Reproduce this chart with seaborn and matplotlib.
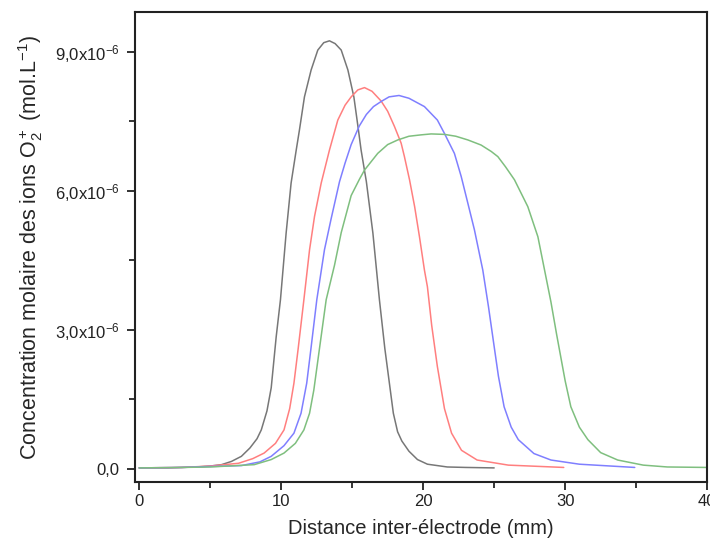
import numpy as np
import pandas as pd
import matplotlib
matplotlib.use("Agg")
import matplotlib.pyplot as plt
import seaborn as sns

# values (x in mm, y in 1e-6 mol/L)
x_black = [0, 2, 4, 5, 5.8, 6.5, 7.2, 7.8, 8.3, 8.6, 9.0, 9.3, 9.65, 9.95, 10.35, 10.7, 11.06,
           11.29, 11.64, 12.11, 12.58, 13.0, 13.4, 13.8, 14.23, 14.7, 15.12, 15.44, 15.63, 16.0,
           16.46, 16.92, 17.3, 17.6, 17.9, 18.2, 18.5, 19.0, 19.6, 20.3, 21.7, 23.0, 25.0]
y_black = [0.02, 0.02, 0.04, 0.06, 0.09, 0.16, 0.27, 0.45, 0.65, 0.84, 1.25, 1.75, 2.85, 3.65, 5.09,
           6.17, 6.88, 7.32, 8.03, 8.61, 9.04, 9.2, 9.24, 9.18, 9.04, 8.61, 8.03, 7.32, 6.88, 6.2,
           5.09, 3.65, 2.6, 1.9, 1.2, 0.8, 0.6, 0.38, 0.2, 0.1, 0.04, 0.03, 0.02]

x_red = [0, 3, 5, 7.0, 8.0, 8.8, 9.6, 10.2, 10.6, 10.9, 11.2, 11.6, 12.0, 12.35, 12.82, 13.4,
         13.99, 14.5, 14.93, 15.4, 15.87, 16.4, 17.04, 17.5, 17.98, 18.45, 18.68, 19.04, 19.4,
         19.74, 20.09, 20.3, 20.6, 21.0, 21.5, 22.0, 22.7, 23.8, 26.0, 29.9]
y_red = [0.02, 0.03, 0.06, 0.12, 0.22, 0.34, 0.55, 0.84, 1.3, 1.85, 2.6, 3.65, 4.73, 5.45, 6.17, 6.88,
         7.53, 7.85, 8.03, 8.18, 8.23, 8.15, 7.94, 7.72, 7.39, 7.03, 6.74, 6.24, 5.66,
         5.01, 4.29, 3.93, 3.1, 2.21, 1.3, 0.77, 0.4, 0.19, 0.08, 0.03]

x_blue = [0, 3, 5, 7.2, 8.5, 9.3, 10.2, 10.9, 11.4, 11.8, 12.1, 12.51, 13.05, 13.52, 14.11, 14.5,
          14.93, 15.5, 16.0, 16.5, 17.04, 17.6, 18.3, 19.0, 20.09, 21.0, 21.5, 22.2, 22.68, 23.15,
          23.61, 24.2, 24.6, 25.0, 25.3, 25.7, 26.2, 26.7, 27.8, 29.0, 31.0, 34.9]
y_blue = [0.02, 0.03, 0.05, 0.07, 0.15, 0.27, 0.5, 0.77, 1.2, 1.85, 2.6, 3.65, 4.73, 5.4, 6.2, 6.6,
          7.0, 7.4, 7.65, 7.82, 7.93, 8.03, 8.06, 8.0, 7.82, 7.53, 7.24, 6.81, 6.31, 5.73,
          5.16, 4.29, 3.5, 2.64, 2.0, 1.34, 0.9, 0.63, 0.33, 0.19, 0.1, 0.03]

x_green = [0, 3, 5, 8.1, 9.3, 10.2, 11.0, 11.6, 12.0, 12.3, 12.7, 13.17, 13.76, 14.23, 14.93, 15.51,
           15.87, 16.8, 17.5, 18.21, 19.0, 19.86, 20.56, 21.5, 22.3, 23.15, 24.08, 24.8, 25.26,
           25.8, 26.43, 26.9, 27.37, 28.08, 28.55, 29.0, 29.4, 29.7, 30.0, 30.4, 31.0, 31.6,
           32.5, 33.7, 35.5, 37.2, 40.0]
y_green = [0.02, 0.03, 0.04, 0.09, 0.2, 0.34, 0.55, 0.84, 1.2, 1.7, 2.6, 3.65, 4.4, 5.1, 5.9, 6.25,
           6.45, 6.81, 7.0, 7.1, 7.18, 7.21, 7.23, 7.22, 7.18, 7.1, 6.99, 6.85, 6.74,
           6.52, 6.24, 5.95, 5.66, 5.01, 4.29, 3.6, 2.9, 2.4, 1.9, 1.34, 0.9, 0.63,
           0.35, 0.19, 0.08, 0.04, 0.03]

series_names = ["noir", "rouge", "bleu", "vert"]
colors = ["#777777", "#ff7f7f", "#7f7fff", "#7fbf7f"]

frames = []
for name, xs, ys in zip(series_names,
                        [x_black, x_red, x_blue, x_green],
                        [y_black, y_red, y_blue, y_green]):
    frames.append(pd.DataFrame({"x": xs, "y": np.array(ys) * 1e-6, "serie": name}))
df = pd.concat(frames, ignore_index=True)

sns.set_style("ticks")
plt.rcParams["font.family"] = ["Liberation Sans", "DejaVu Sans"]
plt.rcParams["mathtext.fontset"] = "custom"
plt.rcParams["mathtext.rm"] = "Liberation Sans"
plt.rcParams["mathtext.it"] = "Liberation Sans:italic"

fig = plt.figure(figsize=(7.1, 5.5), dpi=100)
ax = fig.add_axes([0.19, 0.124, 0.806, 0.854])

sns.lineplot(data=df, x="x", y="y", hue="serie", palette=colors,
             estimator=None, sort=False, linewidth=1.1, legend=False, ax=ax)
for ln in ax.get_lines():
    ln.set_solid_joinstyle("round")

ax.set_xlim(-0.3, 40)
ax.set_ylim(-0.28e-6, 9.86e-6)

ax.set_xticks([0, 10, 20, 30, 40])
ax.set_xticklabels(["0", "10", "20", "30", "40"])
ax.set_xticks([5, 15, 25, 35], minor=True)
ax.set_yticks([0, 3e-6, 6e-6, 9e-6])
ax.set_yticklabels(["0,0", "3,0x10$^{-6}$", "6,0x10$^{-6}$", "9,0x10$^{-6}$"])
ax.set_yticks([1.5e-6, 4.5e-6, 7.5e-6], minor=True)

ax.tick_params(axis="both", which="major", direction="out", length=6, width=1.3,
               labelsize=12, colors="#222222", pad=5)
ax.tick_params(axis="x", which="major", pad=3)
ax.tick_params(axis="both", which="minor", direction="out", length=4, width=1.3)
for s in ax.spines.values():
    s.set_linewidth(1.5)
    s.set_color("#222222")

ax.set_xlabel("Distance inter-électrode (mm)", fontsize=14.5, labelpad=7)
ax.set_ylabel("Concentration molaire des ions O$_2^+$ (mol.L$^{-1}$)", fontsize=15.5, labelpad=7)

fig.savefig("out.png", dpi=100)
